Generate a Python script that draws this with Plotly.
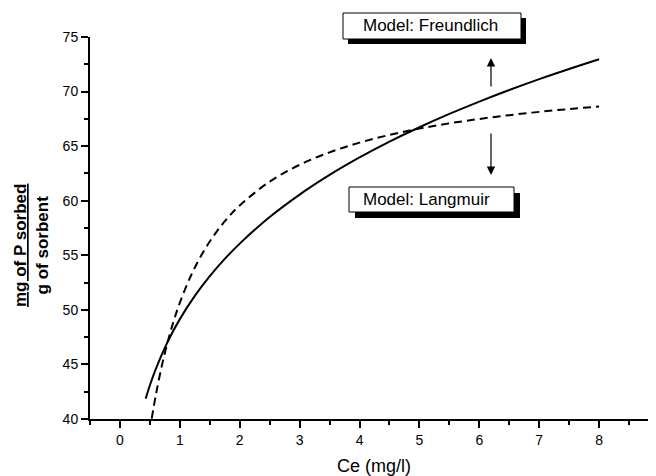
import plotly.graph_objects as go

# Freundlich model curve (solid)
ce_freundlich = [0.43, 0.5, 0.6, 0.8, 1.0, 1.25, 1.5, 1.75, 2.0, 2.5, 3.0, 3.5, 4.0,
                 4.5, 5.0, 5.5, 6.0, 6.5, 7.0, 7.5, 8.0]
q_freundlich = [41.87, 43.09, 44.60, 47.11, 49.15, 51.28, 53.09, 54.67, 56.07, 58.50,
                60.56, 62.36, 63.96, 65.41, 66.73, 67.95, 69.08, 70.14, 71.14, 72.07, 72.96]

# Langmuir model curve (dashed)
ce_langmuir = [0.53, 0.6, 0.7, 0.8, 0.9, 1.0, 1.2, 1.4, 1.6, 1.8, 2.0, 2.5, 3.0, 3.5,
               4.0, 4.5, 5.0, 5.5, 6.0, 6.5, 7.0, 7.5, 8.0]
q_langmuir = [40.03, 42.22, 44.89, 47.13, 49.02, 50.65, 53.31, 55.39, 57.06, 58.43,
              59.57, 61.75, 63.29, 64.43, 65.32, 66.03, 66.61, 67.09, 67.49, 67.84,
              68.14, 68.40, 68.63]

x_ticks = [0, 1, 2, 3, 4, 5, 6, 7, 8, 9]
y_ticks = [40, 45, 50, 55, 60, 65, 70, 75]

FONT = "Arial, Liberation Sans, sans-serif"

fig = go.Figure()
fig.add_trace(go.Scatter(x=ce_freundlich, y=q_freundlich, mode="lines",
                         line=dict(color="black", width=2, shape="spline"),
                         showlegend=False, cliponaxis=True))
fig.add_trace(go.Scatter(x=ce_langmuir, y=q_langmuir, mode="lines",
                         line=dict(color="black", width=2, shape="spline", dash="8px,5px"),
                         showlegend=False, cliponaxis=True))

W, H = 656, 476
OFF = 8  # page body margin
L, T = 82, 29
PLOT_BOTTOM = 411
R = 5
B = H - PLOT_BOTTOM
pw, ph = W - L - R, PLOT_BOTTOM - T


def px(xp):
    # page pixel x -> paper
    return (xp - OFF - L) / pw


def py(yp):
    # page pixel y -> paper
    return (PLOT_BOTTOM - (yp - OFF)) / ph


shapes = []
annotations = []

# boxes with drop shadows (page pixel positions)
for (x0, x1, y0, y1, sh) in [(343, 521, 13, 39, 5), (349, 514, 187, 212, 6)]:
    shapes.append(dict(type="rect", xref="paper", yref="paper",
                       x0=px(x0 + sh), x1=px(x1 + sh), y0=py(y1 + sh), y1=py(y0 + sh),
                       fillcolor="black", line=dict(width=0), layer="above"))
    shapes.append(dict(type="rect", xref="paper", yref="paper",
                       x0=px(x0), x1=px(x1), y0=py(y1), y1=py(y0),
                       fillcolor="white", line=dict(color="black", width=1), layer="above"))

annotations.append(dict(text="Model: Freundlich", xref="paper", yref="paper",
                        x=px(361), y=py(26), xanchor="left", yanchor="middle",
                        showarrow=False, font=dict(family=FONT, size=17, color="black")))
annotations.append(dict(text="Model: Langmuir", xref="paper", yref="paper",
                        x=px(361), y=py(199.5), xanchor="left", yanchor="middle",
                        showarrow=False, font=dict(family=FONT, size=17, color="black")))

# arrows
annotations.append(dict(text="", xref="paper", yref="paper", x=px(491), y=py(58),
                        ax=0, ay=30, showarrow=True, arrowhead=2, arrowsize=1.4,
                        arrowwidth=1.2, arrowcolor="black"))
annotations.append(dict(text="", xref="paper", yref="paper", x=px(491), y=py(175),
                        ax=0, ay=-43, showarrow=True, arrowhead=2, arrowsize=1.4,
                        arrowwidth=1.2, arrowcolor="black"))

# axis titles
annotations.append(dict(text="Ce (mg/l)", xref="paper", yref="paper",
                        x=px(374), y=py(466), xanchor="center", yanchor="middle",
                        showarrow=False, font=dict(family=FONT, size=18, color="black")))
annotations.append(dict(text="<b><u>mg of P sorbed</u></b><br><b>g of sorbent</b>",
                        xref="paper", yref="paper", x=px(31), y=py(246),
                        xanchor="center", yanchor="middle", textangle=-90,
                        showarrow=False, font=dict(family=FONT, size=17, color="black")))

fig.update_layout(
    width=W, height=H,
    margin=dict(l=L, r=R, t=T, b=B),
    paper_bgcolor="white", plot_bgcolor="white",
    font=dict(family=FONT, color="black"),
    shapes=shapes, annotations=annotations,
    xaxis=dict(range=[-0.5, 9], tickvals=x_ticks, ticktext=[str(v) for v in x_ticks],
               showgrid=False, zeroline=False, showline=True, linecolor="black", linewidth=2,
               ticks="outside", ticklen=7, tickwidth=1.5, tickcolor="black",
               tickfont=dict(family=FONT, size=14, color="black"),
               minor=dict(dtick=0.5, tick0=-0.5, ticks="outside", ticklen=4, tickwidth=1.5,
                          tickcolor="black", showgrid=False),
               automargin=False),
    yaxis=dict(range=[40, 75], tickvals=y_ticks, ticktext=[str(v) for v in y_ticks],
               showgrid=False, zeroline=False, showline=True, linecolor="black", linewidth=2,
               ticks="outside", ticklen=7, tickwidth=1.5, tickcolor="black",
               tickfont=dict(family=FONT, size=14, color="black"),
               minor=dict(dtick=2.5, tick0=40, ticks="outside", ticklen=4, tickwidth=1.5,
                          tickcolor="black", showgrid=False),
               automargin=False),
)

fig.write_html("out.html")
